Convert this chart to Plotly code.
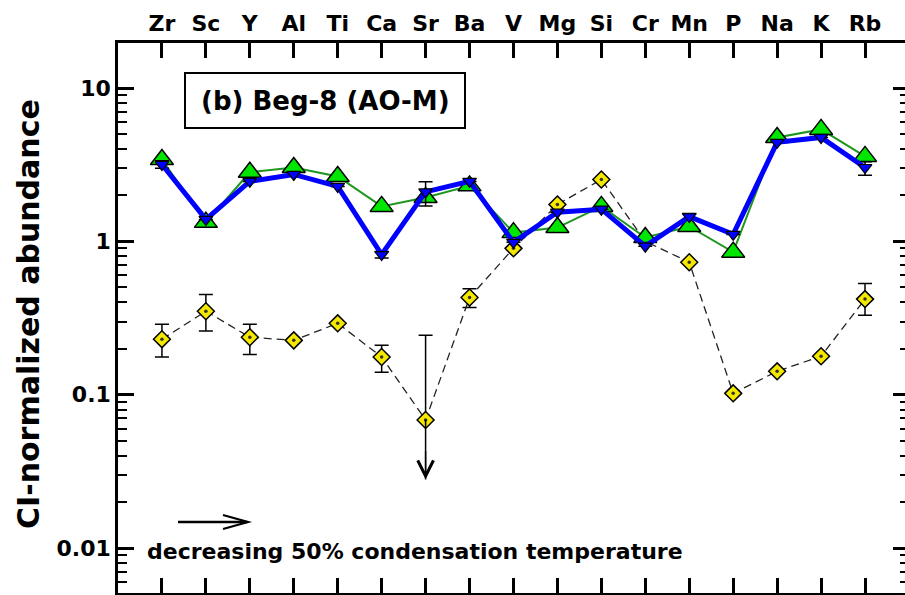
import math
import plotly.graph_objects as go

# ---------------- data ----------------
elements = ["Zr", "Sc", "Y", "Al", "Ti", "Ca", "Sr", "Ba", "V", "Mg",
            "Si", "Cr", "Mn", "P", "Na", "K", "Rb"]

green_vals = [3.42, 1.33, 2.82, 3.03, 2.65, 1.69, 1.93, 2.30, 1.14, 1.23,
              1.69, 1.06, 1.25, 0.85, 4.76, 5.37, 3.58]

blue_vals = [3.17, 1.39, 2.46, 2.73, 2.28, 0.82, 2.10, 2.46, 0.985, 1.55,
             1.62, 0.93, 1.45, 1.11, 4.42, 4.76, 3.03]
blue_err_plus = [0.18, 0, 0, 0, 0, 0.04, 0.35, 0, 0, 0,
                 0, 0, 0.07, 0, 0, 0, 0.27]
blue_err_minus = [0.17, 0, 0, 0, 0, 0.04, 0.40, 0, 0, 0,
                  0, 0, 0.07, 0, 0, 0, 0.33]

yellow_vals = [0.230, 0.350, 0.237, 0.226, 0.292, 0.176, 0.0684, 0.430, 0.90, 1.74,
               2.53, 1.00, 0.73, 0.102, 0.142, 0.178, 0.42]
yellow_err_plus = [0.058, 0.10, 0.051, 0, 0, 0.034, 0.176, 0.06, 0, 0,
                   0, 0, 0, 0, 0, 0, 0.11]
yellow_err_minus = [0.054, 0.09, 0.054, 0, 0, 0.036, 0, 0.06, 0, 0,
                    0, 0, 0, 0, 0, 0, 0.09]
sr_limit = 0.028          # Sr upper-limit arrow reaches down to this value

y_ticks = [0.01, 0.1, 1, 10]
y_ticktext = ["0.01", "0.1", "1", "10"]

panel_label = "(b) Beg-8 (AO-M)"
bottom_text = "decreasing 50% condensation temperature"
y_title = "CI-normalized abundance"

# --------------- figure ---------------
x = list(range(len(elements)))
FONT = "DejaVu Sans"

fig = go.Figure()

# yellow dashed series
fig.add_trace(go.Scatter(
    x=x, y=yellow_vals, mode="lines+markers",
    line=dict(color="#222222", width=1.3, dash="8px,5px"),
    marker=dict(symbol="diamond", size=13, color="#F5E800",
                line=dict(color="black", width=1.5)),
    error_y=dict(type="data", symmetric=False, array=yellow_err_plus,
                 arrayminus=yellow_err_minus, color="black",
                 thickness=1.5, width=7),
    hoverinfo="skip"))
# centre dots of the diamonds
fig.add_trace(go.Scatter(
    x=x, y=yellow_vals, mode="markers",
    marker=dict(symbol="circle", size=3.5, color="#333333"),
    hoverinfo="skip"))

# Sr upper-limit shaft
sr_i = elements.index("Sr")
fig.add_trace(go.Scatter(
    x=[sr_i, sr_i], y=[yellow_vals[sr_i], sr_limit], mode="lines",
    line=dict(color="black", width=1.5), hoverinfo="skip"))

# green series
fig.add_trace(go.Scatter(
    x=x, y=green_vals, mode="lines+markers",
    line=dict(color="#1E961E", width=2),
    marker=dict(symbol="triangle-up", size=20, color="#00E600",
                line=dict(color="black", width=1.5)),
    hoverinfo="skip"))

# blue series
fig.add_trace(go.Scatter(
    x=x, y=blue_vals, mode="lines+markers",
    line=dict(color="#0000FF", width=5),
    marker=dict(symbol="triangle-down", size=12, color="#0000FF",
                line=dict(color="black", width=1.2)),
    error_y=dict(type="data", symmetric=False, array=blue_err_plus,
                 arrayminus=blue_err_minus, color="black",
                 thickness=1.5, width=7),
    hoverinfo="skip"))

# invisible trace for secondary axes
fig.add_trace(go.Scatter(x=[x[0]], y=[green_vals[0]], xaxis="x2", yaxis="y2",
                         mode="markers", marker=dict(opacity=0),
                         hoverinfo="skip"))

minor_vals = [m * 10 ** d for d in range(-3, 2) for m in range(2, 10)]

L, T, B = 118, 43, 2
W, H = 905, 595
pw, ph = W - L, H - T - B

xrange_ = [-1, 16.91]
yrange_ = [-2.2935, 1.2935]

axis_common = dict(showgrid=False, zeroline=False, tickcolor="black")

fig.update_layout(
    width=W, height=H,
    margin=dict(l=L, r=0, t=T, b=B),
    plot_bgcolor="white", paper_bgcolor="white",
    showlegend=False,
    font=dict(family=FONT, color="black"),
    xaxis=dict(range=xrange_, tickmode="array", tickvals=x,
               showticklabels=False, ticks="inside", ticklen=15, tickwidth=2.5,
               showline=True, linecolor="black", linewidth=2.5, **axis_common),
    xaxis2=dict(range=xrange_, overlaying="x", side="top", anchor="y",
                tickmode="array", tickvals=x, ticktext=elements,
                tickfont=dict(size=22, family=FONT, weight="bold"),
                ticks="inside", ticklen=15, tickwidth=2.5,
                showline=True, linecolor="black", linewidth=2.5, **axis_common),
    yaxis=dict(type="log", range=yrange_, tickmode="array", tickvals=y_ticks,
               ticktext=y_ticktext,
               tickfont=dict(size=22, family=FONT, weight="bold"),
               ticks="inside", ticklen=16, tickwidth=2.5,
               minor=dict(tickmode="array", tickvals=minor_vals, ticks="inside",
                          ticklen=9, tickwidth=2, tickcolor="black"),
               showline=True, linecolor="black", linewidth=2.5, **axis_common),
    yaxis2=dict(type="log", range=yrange_, overlaying="y", side="right",
                anchor="x", tickmode="array", tickvals=y_ticks,
                showticklabels=False, ticks="inside", ticklen=12, tickwidth=2.5,
                minor=dict(tickmode="array", tickvals=minor_vals, ticks="inside",
                           ticklen=5, tickwidth=2, tickcolor="black"),
                showline=False, **axis_common),
)


def px_x(p):
    return (p - L) / pw


def px_y(p):
    return (H - B - p) / ph


# y-axis title
fig.add_annotation(text=y_title, xref="paper", yref="paper",
                   x=px_x(28), y=px_y(314), showarrow=False, textangle=-90,
                   xanchor="center", yanchor="middle",
                   font=dict(size=30, family=FONT, weight="bold"))

# panel label box
fig.add_shape(type="rect", xref="paper", yref="paper",
              x0=px_x(185), x1=px_x(465), y0=px_y(128), y1=px_y(73),
              line=dict(color="black", width=2), fillcolor="white")
fig.add_annotation(text=panel_label, xref="paper", yref="paper",
                   x=px_x(325), y=px_y(101), showarrow=False,
                   xanchor="center", yanchor="middle",
                   font=dict(size=26, family=FONT, weight="bold"))

# bottom text and arrow
fig.add_annotation(text=bottom_text, xref="paper", yref="paper",
                   x=px_x(145), y=px_y(551), showarrow=False,
                   xanchor="left", yanchor="middle",
                   font=dict(size=22, family=FONT, weight="bold"))
fig.add_shape(type="line", xref="paper", yref="paper",
              x0=px_x(178), x1=px_x(247), y0=px_y(522), y1=px_y(522),
              line=dict(color="black", width=2.5))
fig.add_shape(type="path", xref="paper", yref="paper",
              path="M {0},{1} L {2},{3} L {0},{4}".format(
                  px_x(223), px_y(515), px_x(248), px_y(522), px_y(529)),
              line=dict(color="black", width=2.2))

# Sr upper-limit arrowhead
fig.add_annotation(x=sr_i, y=math.log10(sr_limit), xref="x", yref="y",
                   ax=0, ay=-30, text="", showarrow=True,
                   arrowhead=5, arrowsize=2.2, arrowwidth=1.4,
                   arrowcolor="black", standoff=0)

fig.write_html("out.html")
